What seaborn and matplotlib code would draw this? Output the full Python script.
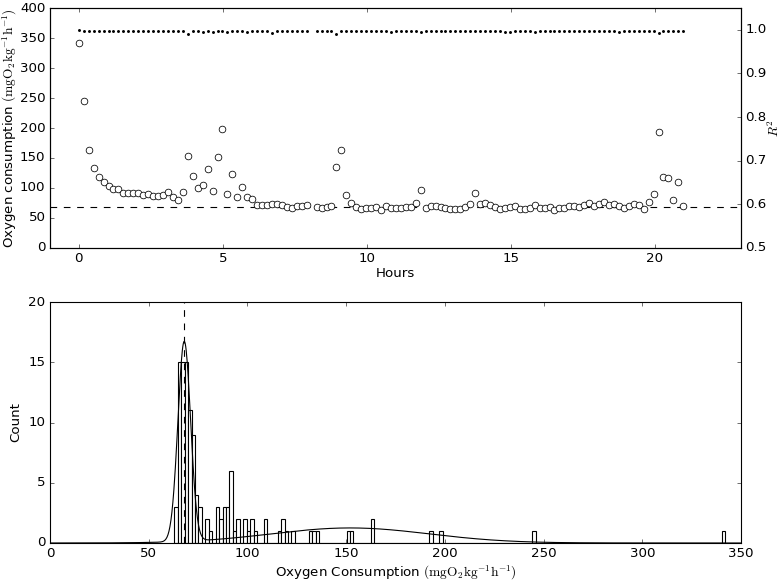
import numpy as np
import pandas as pd
import matplotlib
matplotlib.use('Agg')
import matplotlib.pyplot as plt
import seaborn as sns

# one respirometry cycle every ~10.3 min, nan = cycle that was dropped
cycle_hours = 0.1721

mo2 = [
    342.0, 245.0, 163.0, 133.5, 117.8, 109.2, 102.5, 99.0, 98.5, 91.8,
    91.5, 92.2, 91.6, 88.0, 90.4, 86.5, 86.2, 88.9, 92.5, 84.8,
    79.8, 93.8, 152.8, 119.6, 100.8, 104.2, 131.8, 95.6, 151.2, 198.2,
    90.8, 123.2, 85.6, 102.4, 85.3, 81.5, 71.5, 71.4, 71.3, 73.0,
    74.0, 71.2, 69.0, 67.2, 70.8, 69.2, 71.0, np.nan, 69.1, 67.3,
    67.8, 70.5, 135.3, 163.5, 89.0, 74.3, 67.9, 65.5, 67.4, 66.2,
    68.0, 63.8, 69.3, 66.3, 66.1, 66.2, 67.7, 67.6, 75.0, 95.9,
    66.3, 69.4, 69.5, 68.1, 66.0, 65.3, 65.6, 65.4, 67.9, 73.3,
    91.4, 73.1, 74.6, 71.0, 68.4, 65.8, 66.4, 68.5, 69.7, 65.7,
    64.3, 66.8, 71.6, 65.9, 66.9, 69.0, 63.0, 66.7, 67.0, 69.2,
    69.8, 68.6, 72.2, 75.8, 69.3, 72.5, 76.0, 72.3, 72.6, 69.6,
    66.8, 70.2, 72.8, 72.4, 65.2, 76.4, 90.7, 193.0, 118.3, 116.2,
    79.5, 109.5, 70.3,
]

r2 = [
    0.999, 0.998, 0.998, 0.998, 0.998, 0.998, 0.998, 0.998, 0.998, 0.998,
    0.998, 0.998, 0.998, 0.998, 0.998, 0.998, 0.998, 0.998, 0.998, 0.998,
    0.998, 0.998, 0.990, 0.997, 0.998, 0.995, 0.998, 0.996, 0.998, 0.997,
    0.995, 0.998, 0.998, 0.997, 0.996, 0.998, 0.998, 0.998, 0.998, 0.993,
    0.998, 0.998, 0.998, 0.998, 0.998, 0.998, 0.998, np.nan, 0.998, 0.998,
    0.998, 0.998, 0.990, 0.998, 0.998, 0.998, 0.998, 0.998, 0.998, 0.998,
    0.998, 0.998, 0.998, 0.996, 0.998, 0.998, 0.998, 0.998, 0.998, 0.996,
    0.998, 0.998, 0.998, 0.998, 0.998, 0.998, 0.998, 0.998, 0.998, 0.998,
    0.998, 0.998, 0.998, 0.998, 0.998, 0.997, 0.996, 0.995, 0.997, 0.998,
    0.998, 0.998, 0.996, 0.998, 0.998, 0.998, 0.998, 0.998, 0.998, 0.998,
    0.998, 0.998, 0.998, 0.998, 0.998, 0.998, 0.998, 0.998, 0.997, 0.995,
    0.998, 0.998, 0.998, 0.998, 0.998, 0.998, 0.997, 0.993, 0.998, 0.998,
    0.998, 0.998, 0.998,
]

smr = 68.0  # baseline, dashed line in both panels

# two-gaussian fit drawn over the histogram (heights in counts)
fit_means = [68.0, 152.0]
fit_sds = [3.2, 40.0]
fit_heights = [16.6, 1.25]

hist_bins = 160

plt.style.use('classic')
plt.rcParams['font.family'] = ['DejaVu Sans']
plt.rcParams['mathtext.fontset'] = 'cm'

df = pd.DataFrame({
    'hours': np.arange(len(mo2)) * cycle_hours,
    'mo2': mo2,
    'r2': r2,
}).dropna()

fig = plt.figure(figsize=(781 / 80, 581 / 80), dpi=80, facecolor='white')
ax1 = fig.add_axes([50 / 781, 1 - 248 / 581, 691 / 781, 240 / 581])
ax1r = ax1.twinx()
ax2 = fig.add_axes([50 / 781, 1 - 543 / 581, 691 / 781, 241 / 581])

# top panel: MO2 per cycle and the fit quality
ax1.axhline(smr, color='black', linestyle='--', linewidth=1, zorder=1)
sns.scatterplot(data=df, x='hours', y='mo2', ax=ax1, marker='o', s=36,
                color='white', edgecolor='black', linewidth=0.7, zorder=2)
sns.scatterplot(data=df, x='hours', y='r2', ax=ax1r, marker='o', s=7,
                color='black', linewidth=0)

ax1.set_xlim(-1, 23)
ax1.set_ylim(0, 400)
ax1.set_yticks(np.arange(0, 401, 50))
ax1r.set_ylim(0.5, 1.05)
ax1r.set_yticks([0.5, 0.6, 0.7, 0.8, 0.9, 1.0])
ax1.set_xlabel('Hours', labelpad=1.5)
ax1.set_ylabel(r'Oxygen consumption $(\mathrm{mgO_2kg^{-1}h^{-1}})$', labelpad=1)
ax1r.set_ylabel(r'$R^2$', labelpad=0)

# bottom panel: distribution of MO2 values
sns.histplot(x=df['mo2'], bins=hist_bins, ax=ax2, color='white',
             edgecolor='black', linewidth=1, alpha=1)
grid = np.linspace(0, 350, 1401)
fit = np.zeros_like(grid)
for m, sd, h in zip(fit_means, fit_sds, fit_heights):
    fit += h * np.exp(-0.5 * ((grid - m) / sd) ** 2)
sns.lineplot(x=grid, y=fit, ax=ax2, color='black', linewidth=1)
ax2.axvline(smr, color='black', linestyle='--', linewidth=1)

ax2.set_xlim(0, 350)
ax2.set_ylim(0, 20)
ax2.set_xlabel(r'Oxygen Consumption $(\mathrm{mgO_2kg^{-1}h^{-1}})$', labelpad=3)
ax2.set_ylabel('Count', labelpad=6)

fig.savefig('out.png', dpi=80, facecolor='white')
